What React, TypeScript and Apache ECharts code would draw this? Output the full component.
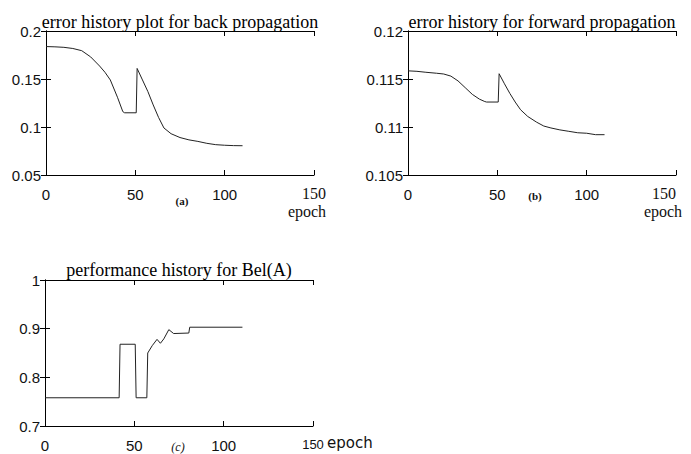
import { useEffect, useRef } from "react";
import * as echarts from "echarts";

// ---- data ----
const epochTicks = [0, 50, 100, 150];

const backEpoch = [0, 5, 10, 15, 20, 25, 30, 33, 36, 40, 43, 44, 50.5, 51, 54, 57, 60, 63, 66, 70, 75, 80, 85, 90, 95, 100, 105, 110];
const backError = [0.1838, 0.1835, 0.183, 0.1818, 0.1795, 0.173, 0.1635, 0.157, 0.149, 0.131, 0.116, 0.1148, 0.1148, 0.161, 0.149, 0.137, 0.123, 0.11, 0.099, 0.093, 0.089, 0.0866, 0.085, 0.083, 0.0816, 0.081, 0.0806, 0.0805];

const fwdEpoch = [0, 5, 10, 16, 20, 24, 28, 32, 36, 40, 43, 44, 50.5, 51, 54, 57, 60, 63, 67, 72, 76, 80, 85, 90, 95, 100, 105, 110];
const fwdError = [0.11585, 0.1158, 0.1157, 0.1156, 0.11552, 0.1153, 0.1148, 0.1141, 0.1134, 0.1129, 0.11265, 0.1126, 0.1126, 0.11555, 0.1145, 0.1135, 0.1126, 0.1118, 0.1111, 0.1105, 0.1101, 0.1099, 0.1097, 0.10955, 0.1094, 0.10935, 0.1092, 0.1092];

const belEpoch = [0, 41.5, 42, 50.5, 51, 57, 57.5, 60, 62.7, 64.6, 66.5, 69.3, 72, 80.5, 81, 110.5];
const belPerf = [0.758, 0.758, 0.868, 0.868, 0.758, 0.758, 0.85, 0.865, 0.878, 0.87, 0.879, 0.898, 0.89, 0.891, 0.903, 0.903];

const titles = [
  "error history plot for back propagation",
  "error history for forward propagation",
  "performance history for Bel(A)",
];
const panelTags = ["(a)", "(b)", "(c)"];
const yMin = [0.05, 0.105, 0.7];
const yMax = [0.2, 0.12, 1];
const yStep = [0.05, 0.005, 0.1];

const SERIF = "Liberation Serif";
const SANS = "Liberation Sans";

export default function App() {
  const ref = useRef<HTMLDivElement>(null);

  useEffect(() => {
    if (!ref.current) return;
    const chart = echarts.init(ref.current, undefined, { renderer: "svg" });

    const grids = [
      { left: 46, top: 31, width: 268, height: 144 },
      { left: 408, top: 31, width: 268, height: 144 },
      { left: 45, top: 280, width: 268, height: 146 },
    ];

    const tick = { inside: true, length: 5, lineStyle: { color: "#000", width: 1 } };
    const line = { show: true, lineStyle: { color: "#000", width: 1 } };

    const xAxis: any[] = [];
    const yAxis: any[] = [];
    grids.forEach((_, i) => {
      xAxis.push({
        gridIndex: i,
        type: "value",
        min: epochTicks[0],
        max: epochTicks[epochTicks.length - 1],
        interval: epochTicks[1] - epochTicks[0],
        position: "bottom",
        axisLine: line,
        axisTick: tick,
        splitLine: { show: false },
        axisLabel: {
          margin: 12,
          color: "#111",
          fontFamily: SANS,
          fontSize: 15,
          alignMaxLabel: i === 1 ? "right" : undefined,
          formatter: (v: number) =>
            v === epochTicks[epochTicks.length - 1] ? (i < 2 ? `{s|${v}}` : `{c|${v}}`) : `${v}`,
          rich: {
            s: { fontFamily: SERIF, fontSize: 16, lineHeight: 13, color: "#111" },
            c: { fontFamily: SANS, fontSize: 13, lineHeight: 13, color: "#111" },
          },
        },
      });
      xAxis.push({
        gridIndex: i,
        type: "value",
        min: epochTicks[0],
        max: epochTicks[epochTicks.length - 1],
        interval: epochTicks[1] - epochTicks[0],
        position: "top",
        axisLine: line,
        axisTick: tick,
        splitLine: { show: false },
        axisLabel: { show: false },
      });
      yAxis.push({
        gridIndex: i,
        type: "value",
        min: yMin[i],
        max: yMax[i],
        interval: yStep[i],
        position: "left",
        axisLine: line,
        axisTick: tick,
        splitLine: { show: false },
        axisLabel: { margin: 5, color: "#111", fontFamily: SANS, fontSize: 15 },
      });
      yAxis.push({
        gridIndex: i,
        type: "value",
        min: yMin[i],
        max: yMax[i],
        interval: yStep[i],
        position: "right",
        axisLine: line,
        axisTick: tick,
        splitLine: { show: false },
        axisLabel: { show: false },
      });
    });

    const dataSets = [
      backEpoch.map((x, k) => [x, backError[k]]),
      fwdEpoch.map((x, k) => [x, fwdError[k]]),
      belEpoch.map((x, k) => [x, belPerf[k]]),
    ];

    const series = dataSets.map((d, i) => ({
      type: "line",
      xAxisIndex: 2 * i,
      yAxisIndex: 2 * i,
      data: d,
      showSymbol: false,
      symbol: "none",
      lineStyle: { color: "#222", width: 1 },
    }));

    const title = grids.map((g, i) => ({
      text: titles[i],
      left: g.left + g.width / 2,
      textAlign: "center",
      top: i < 2 ? 13 : 261,
      padding: 0,
      textStyle: { fontFamily: SERIF, fontSize: 18, fontWeight: "normal", color: "#000" },
    }));

    const txt = (text: string, x: number, y: number, fontFamily: string, fontSize: number, align: string, extra: any = {}) => ({
      type: "text",
      x,
      y,
      style: { text, fontFamily, fontSize, fill: "#111", align, verticalAlign: "middle", ...extra },
    });

    const graphic = [
      txt("epoch", 307, 211, SERIF, 16, "center"),
      txt("epoch", 663, 211, SERIF, 16, "center"),
      txt("epoch", 327, 443, "DejaVu Sans", 15, "left"),
      txt(panelTags[0], 182, 201, SERIF, 11, "center", { fontWeight: "bold" }),
      txt(panelTags[1], 535, 196, SERIF, 11, "center", { fontWeight: "bold" }),
      txt(panelTags[2], 178, 447, SERIF, 12, "center", { fontStyle: "italic" }),
    ];

    chart.setOption({
      animation: false,
      backgroundColor: "#fff",
      title,
      grid: grids.map((g) => ({ ...g, containLabel: false, outerBoundsMode: "none" })),
      xAxis,
      yAxis,
      series,
      graphic,
    });

    return () => chart.dispose();
  }, []);

  return (
    <div
      ref={ref}
      style={{ position: "absolute", left: 0, top: 0, width: 691, height: 454, background: "#fff" }}
    />
  );
}
